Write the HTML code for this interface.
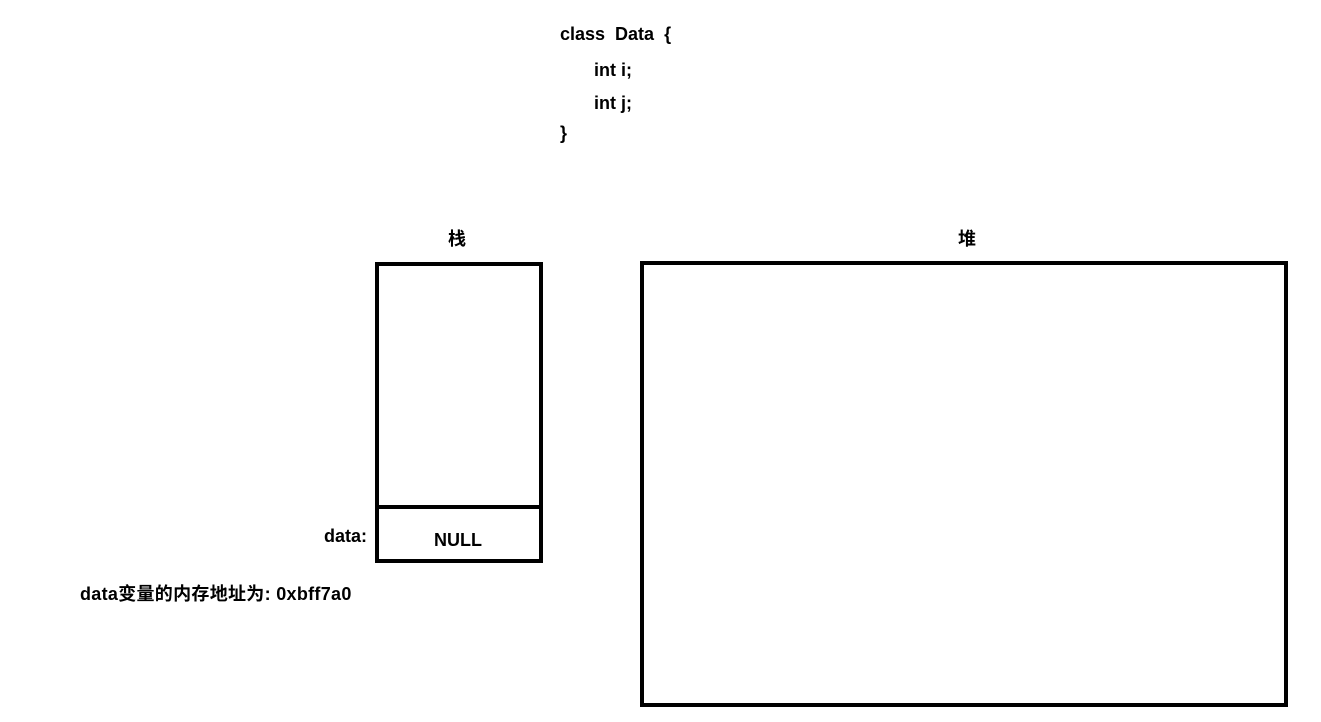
<!DOCTYPE html>
<html><head><meta charset="utf-8"><style>
body{margin:0;width:1321px;height:722px;background:#fff;position:relative;overflow:hidden;font-family:"Liberation Sans","Noto Sans CJK SC",sans-serif;font-weight:bold;font-size:18px;color:#000}
.t{position:absolute;white-space:pre;line-height:20px}
.b{position:absolute;border:4px solid #000;box-sizing:border-box}
</style></head><body>
<div class="t" style="left:560px;top:24px">class  Data  {</div>
<div class="t" style="left:594px;top:60px">int i;</div>
<div class="t" style="left:594px;top:93px">int j;</div>
<div class="t" style="left:560px;top:123px">}</div>
<div class="t" style="left:448px;top:229px">栈</div>
<div class="t" style="left:958px;top:229px">堆</div>
<div class="b" style="left:375px;top:262px;width:168px;height:301px"></div>
<div style="position:absolute;left:375px;top:505px;width:168px;height:4px;background:#000"></div>
<div class="t" style="left:434px;top:530px">NULL</div>
<div class="t" style="left:324px;top:526px">data:</div>
<div class="b" style="left:640px;top:261px;width:648px;height:446px"></div>
<div class="t" style="left:80px;top:584px;letter-spacing:0.3px">data变量的内存地址为: 0xbff7a0</div>
</body></html>
